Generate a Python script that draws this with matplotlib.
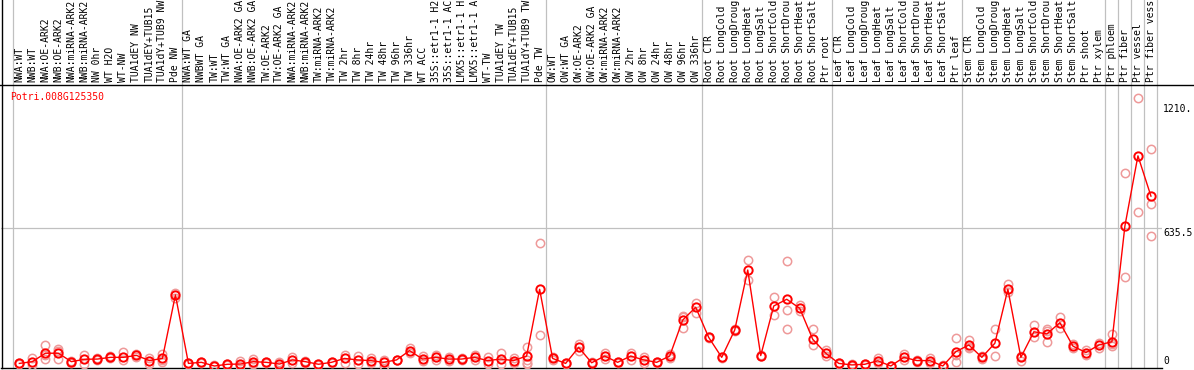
import numpy as np
import matplotlib
matplotlib.use("Agg")
from matplotlib import pyplot as plt
from matplotlib.lines import Line2D
import matplotlib.transforms as mtransforms

gene = "Potri.008G125350"

labels = [
    "NWA:WT", "NWB:WT", "NWA:OE-ARK2", "NWB:OE-ARK2", "NWA:miRNA-ARK2", "NWB:miRNA-ARK2",
    "NW 0hr", "WT H2O", "WT-NW", "TUA1dEY NW", "TUA1dEY+TUB15", "TUA1dY+TUB9 NW", "Pde NW",
    "NWA:WT GA", "NWBWT GA", "TW:WT", "TW:WT GA", "NWA:OE-ARK2 GA", "NWB:OE-ARK2 GA",
    "TW:OE-ARK2", "TW:OE-ARK2 GA", "NWA:miRNA-ARK2", "NWB:miRNA-ARK2", "TW:miRNA-ARK2",
    "TW:miRNA-ARK2", "TW 2hr", "TW 8hr", "TW 24hr", "TW 48hr", "TW 96hr", "TW 336hr",
    "WT ACC", "35S::etr1-1 H2", "35S::etr1-1 AC", "LMX5::etr1-1 H", "LMX5::etr1-1 A",
    "WT-TW", "TUA1dEY TW", "TUA1dEY+TUB15", "TUA1dY+TUB9 TW", "Pde TW",
    "OW:WT", "OW:WT GA", "OW:OE-ARK2", "OW:OE-ARK2 GA", "OW:miRNA-ARK2", "OW:miRNA-ARK2",
    "OW 2hr", "OW 8hr", "OW 24hr", "OW 48hr", "OW 96hr", "OW 336hr",
    "Root CTR", "Root LongCold", "Root LongDroug", "Root LongHeat", "Root LongSalt",
    "Root ShortCold", "Root ShortDrou", "Root ShortHeat", "Root ShortSalt", "Ptr root",
    "Leaf CTR", "Leaf LongCold", "Leaf LongDroug", "Leaf LongHeat", "Leaf LongSalt",
    "Leaf ShortCold", "Leaf ShortDrou", "Leaf ShortHeat", "Leaf ShortSalt", "Ptr leaf",
    "Stem CTR", "Stem LongCold", "Stem LongDroug", "Stem LongHeat", "Stem LongSalt",
    "Stem ShortCold", "Stem ShortDrou", "Stem ShortHeat", "Stem ShortSalt", "Ptr shoot",
    "Ptr xylem", "Ptr phloem", "Ptr fiber", "Ptr vessel", "Ptr fiber vess",
]

group_sizes = [13, 28, 12, 10, 10, 11, 1, 1, 1, 1]

means = [
    12, 20, 59, 59, 20, 31, 32, 40, 40, 49, 25, 35, 328,
    12, 17, 0, 8, 9, 20, 17, 9, 28, 20, 8, 17, 35, 28, 25, 17, 28, 71, 32, 40, 32, 32,
    40, 25, 32, 25, 46, 354,
    35, 12, 86, 15, 46, 17, 46, 28, 17, 46, 212, 271,
    132, 40, 166, 443, 48, 277, 308, 266, 123, 59,
    12, 5, 8, 24, 0, 40, 25, 25, 0, 66,
    97, 40, 105, 354, 40, 158, 148, 200, 92, 62, 97,
    112, 647, 970, 784,
]

reps = [
    [15, 8], [35, 5], [97, 31, 50], [77, 32, 68], [25, 12], [51, 9], [38, 28], [48, 35],
    [63, 30], [54, 40], [38, 8], [55, 20, 30], [338, 312],
    [15, 8], [20, 14], [3, 0], [10, 6], [25, 0], [32, 8], [20, 12], [20, 0], [43, 12],
    [25, 15], [10, 5], [20, 14], [52, 12], [45, 8], [35, 15], [28, 0], [30, 26], [82, 62],
    [48, 25], [50, 30], [42, 22], [38, 28], [50, 30], [40, 8], [59, 9], [35, 15],
    [86, 28, 9, 15], [568, 143],
    [40, 30], [15, 8], [101, 70], [18, 12], [59, 31], [20, 14], [62, 30], [40, 15],
    [20, 14], [55, 35], [231, 177, 225], [292, 246],
    [135, 128], [43, 37], [170, 162], [489, 397], [52, 44], [317, 235], [486, 258, 169],
    [282, 255], [169, 97], [72, 45],
    [14, 10], [8, 2], [10, 6], [35, 14], [2, 0], [55, 28], [30, 20], [35, 12], [3, 0],
    [128, 20, 50],
    [120, 82, 90], [48, 32], [169, 46], [378, 340], [48, 25], [189, 135], [169, 112, 160],
    [228, 174], [100, 85], [72, 50], [105, 85],
    [148, 92, 100], [892, 409], [1235, 709], [1000, 746, 600],
]

yticks = [0, 635.5, 1210]
yticklabels = ["0", "635.5", "1210."]

mono = "DejaVu Sans Mono"
fs = 7
grey = "#c0c0c0"

fig = plt.figure(figsize=(11.94, 3.70), dpi=100)
W, H = 1194, 370
ax = fig.add_axes([1 / W, 2 / H, 1161 / W, 283 / H])

x = np.arange(len(labels))

# replicate points
for i, r in enumerate(reps):
    ax.plot([i] * len(r), r, "o", ms=6, mfc="none", mec="#ee9999", mew=1.1, zorder=3)

# mean line
ax.plot(x, means, "-", color="red", lw=1.0, zorder=4)
ax.plot(x, means, "o", ms=6, mfc="none", mec="red", mew=1.4, zorder=5)

ax.set_xlim(-1.41, 87.85)
ax.set_ylim(-9.2, 1296.8)

# group separators, running through the label strip
bounds = np.cumsum([0] + group_sizes) - 0.5
for b in bounds:
    ax.axvline(b, ymin=0, ymax=1.31, color=grey, lw=0.9, clip_on=False, zorder=1)
ax.axhline(635.5, color=grey, lw=0.9, zorder=1)

# condition labels
trans = mtransforms.blended_transform_factory(ax.transData, ax.transAxes)
for i, lab in enumerate(labels):
    ax.text(i, 1 + 3 / 283, lab, transform=trans, rotation=90, ha="center", va="bottom",
            fontsize=fs, family=mono, color="black", clip_on=False)

# y tick labels on the right
ax.set_xticks([])
ax.set_yticks([])
for v, t in zip(yticks, yticklabels):
    va = "bottom" if v == 0 else "top"
    ax.text(1163 / W, v, t, transform=mtransforms.blended_transform_factory(fig.transFigure, ax.transData),
            ha="left", va=va, fontsize=fs, family=mono, color="black")

ax.text(9 / 1161, 1 - 12 / 283, gene, transform=ax.transAxes, ha="left", va="center",
        fontsize=fs, family=mono, color="red")

for s in ["top", "right"]:
    ax.spines[s].set_visible(False)
ax.spines["left"].set_visible(False)
ax.spines["bottom"].set_linewidth(1.0)

# frame lines of the figure
fig.add_artist(Line2D([0, 1], [1 - 85 / H, 1 - 85 / H], transform=fig.transFigure, color="black", lw=1.0))
fig.add_artist(Line2D([1.5 / W, 1.5 / W], [2 / H, 1], transform=fig.transFigure, color="black", lw=1.0))

fig.savefig("out.png", dpi=100)
